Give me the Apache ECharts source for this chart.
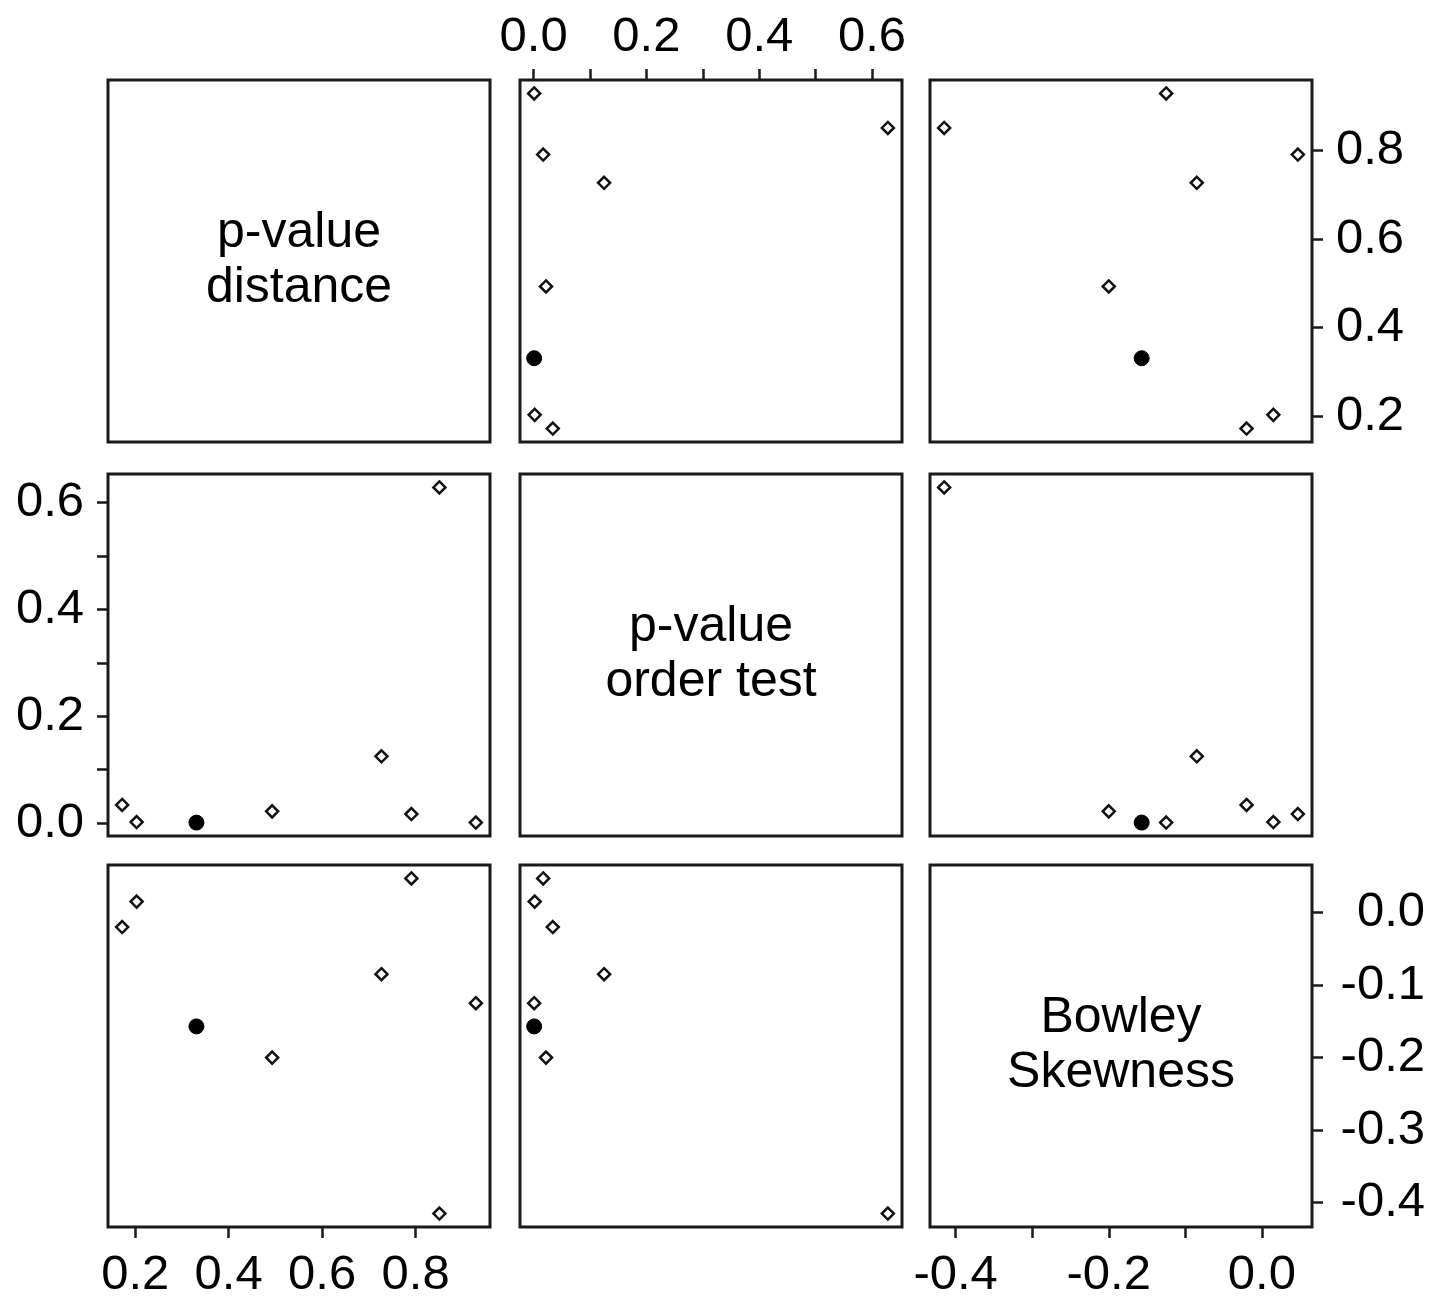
<!DOCTYPE html>
<html>
<head>
<meta charset="utf-8">
<script src="https://cdn.jsdelivr.net/npm/echarts@6/dist/echarts.min.js"></script>
<style>
  html, body { margin: 0; padding: 0; background: #fff; }
  #chart { width: 1445px; height: 1302px; }
</style>
</head>
<body>
<div id="chart"></div>
<script>
// variables of the pairs plot
const varNames = ['p-value\ndistance', 'p-value\norder test', 'Bowley\nSkewness'];
const pDistance = [0.172, 0.203, 0.331, 0.493, 0.727, 0.791, 0.851, 0.929];
const pOrder = [0.034, 0.002, 0.001, 0.022, 0.125, 0.017, 0.628, 0.001];
const bowley = [-0.020, 0.015, -0.157, -0.200, -0.085, 0.047, -0.415, -0.125];
const highlightIndex = 2; // the filled point

// tick marks / labels (as in the R pairs plot)
const distTicks = [0.2, 0.4, 0.6, 0.8];
const distLabels = [0.2, 0.4, 0.6, 0.8];
const orderTicks = [0, 0.1, 0.2, 0.3, 0.4, 0.5, 0.6];
const orderLabels = [0, 0.2, 0.4, 0.6];
const bowleyTicks = [-0.4, -0.3, -0.2, -0.1, 0];
const bowleyBottomLabels = [-0.4, -0.2, 0];
const bowleyRightLabels = [-0.4, -0.3, -0.2, -0.1, 0];

const vars = [pDistance, pOrder, bowley];

// panel layout
const colLeft = [108, 520, 930];
const rowTop = [80, 474, 865];
const panelW = 382, panelH = 362;

const font = 'Liberation Sans, Arial, sans-serif';
const ink = '#1a1a1a';

// R-style 4% range extension
const ranges = vars.map(v => {
  const lo = Math.min(...v), hi = Math.max(...v);
  const ext = (hi - lo) * 0.04;
  return [lo - ext, hi + ext];
});

const fmt = v => (Math.abs(v) < 1e-9 ? 0 : v).toFixed(1);

function labelStyle(extra) {
  return Object.assign({
    show: true, color: '#000', fontSize: 49, fontFamily: font, formatter: fmt
  }, extra);
}
const tickStyle = {lineStyle: {color: ink, width: 2.5}, length: 11};

// which axis is drawn on which panel: key "row,col"
const xAxisSpec = {
  '0,1': {position: 'top', ticks: orderTicks, labels: orderLabels, margin: 18},
  '2,0': {position: 'bottom', ticks: distTicks, labels: distLabels, margin: 24},
  '2,2': {position: 'bottom', ticks: bowleyTicks, labels: bowleyBottomLabels, margin: 24}
};
const yAxisSpec = {
  '1,0': {position: 'left', ticks: orderTicks, labels: orderLabels, margin: 24},
  '0,2': {position: 'right', ticks: distTicks, labels: distLabels, margin: 24},
  '2,2': {position: 'right', ticks: bowleyTicks, labels: bowleyRightLabels, margin: 113, align: 'right'}
};

function makeAxis(idx, range, spec, fallbackPos) {
  const ax = {
    gridIndex: idx, type: 'value', min: range[0], max: range[1],
    position: spec ? spec.position : fallbackPos,
    splitLine: {show: false}, axisLine: {show: false, onZero: false},
    axisTick: {show: false}, axisLabel: {show: false}
  };
  if (spec) {
    ax.axisTick = Object.assign({show: true, customValues: spec.ticks}, tickStyle);
    const extra = {customValues: spec.labels, margin: spec.margin};
    if (spec.align) extra.align = spec.align;
    ax.axisLabel = labelStyle(extra);
  }
  return ax;
}

const grids = [], xAxes = [], yAxes = [], series = [], graphics = [];

for (let i = 0; i < 3; i++) {
  for (let j = 0; j < 3; j++) {
    const idx = i * 3 + j;
    const key = i + ',' + j;
    grids.push({
      left: colLeft[j], top: rowTop[i], width: panelW, height: panelH,
      show: true, borderColor: ink, borderWidth: 3, backgroundColor: 'transparent',
      outerBoundsMode: 'none'
    });
    xAxes.push(makeAxis(idx, ranges[j], xAxisSpec[key], 'bottom'));
    yAxes.push(makeAxis(idx, ranges[i], yAxisSpec[key], 'left'));

    if (i === j) {
      graphics.push({
        type: 'text',
        x: colLeft[j] + panelW / 2,
        y: rowTop[i] + panelH / 2,
        style: {
          text: varNames[i], fill: '#000', font: '50px ' + font,
          textAlign: 'center', textVerticalAlign: 'middle', lineHeight: 55
        }
      });
      continue;
    }

    const data = vars[j].map((xv, k) => {
      const item = {value: [xv, vars[i][k]]};
      if (k === highlightIndex) {
        item.symbol = 'circle';
        item.symbolSize = 15;
        item.itemStyle = {color: '#000', borderColor: '#000', borderWidth: 1, opacity: 1};
      }
      return item;
    });
    series.push({
      type: 'scatter', xAxisIndex: idx, yAxisIndex: idx,
      symbol: 'diamond', symbolSize: 12,
      itemStyle: {color: '#fff', borderColor: '#111', borderWidth: 2.5, opacity: 1},
      emphasis: {disabled: true},
      data: data
    });
  }
}

const chart = echarts.init(document.getElementById('chart'), null, {renderer: 'canvas'});
chart.setOption({
  backgroundColor: '#fff',
  animation: false,
  grid: grids,
  xAxis: xAxes,
  yAxis: yAxes,
  series: series,
  graphic: graphics
});
</script>
</body>
</html>
